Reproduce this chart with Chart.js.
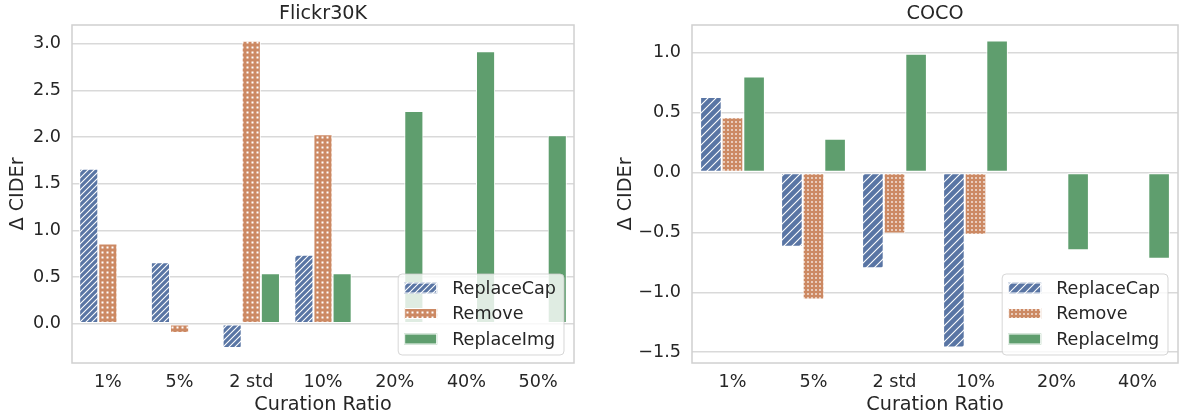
<!DOCTYPE html>
<html>
<head>
<meta charset="utf-8">
<script src="https://cdn.jsdelivr.net/npm/chart.js@4.4.0/dist/chart.umd.min.js"></script>
<style>
  html, body { margin: 0; padding: 0; background: #fff; }
  #wrap { display: flex; width: 1180px; height: 418px; }
  .panel { width: 590px; height: 418px; }
</style>
</head>
<body>
<div id="wrap">
  <div class="panel"><canvas id="flickr" width="590" height="418"></canvas></div>
  <div class="panel"><canvas id="coco" width="590" height="418"></canvas></div>
</div>
<script>
// Flickr30K panel
const flickrLabels = ["1%", "5%", "2 std", "10%", "20%", "40%", "50%"];
const flickrReplaceCap = [1.66, 0.66, -0.26, 0.74, null, null, null];
const flickrRemove = [0.86, -0.10, 3.03, 2.03, null, null, null];
const flickrReplaceImg = [null, null, 0.54, 0.54, 2.28, 2.92, 2.02];

// COCO panel
const cocoLabels = ["1%", "5%", "2 std", "10%", "20%", "40%"];
const cocoReplaceCap = [0.63, -0.62, -0.80, -1.46, null, null];
const cocoRemove = [0.46, -1.06, -0.51, -0.52, null, null];
const cocoReplaceImg = [0.80, 0.28, 0.99, 1.10, -0.65, -0.72];

const seriesNames = ["ReplaceCap", "Remove", "ReplaceImg"];

const BLUE = "#5975a4", ORANGE = "#cc8963", GREEN = "#5f9e6e";
const TEXT = "#262626";
const TICK = 17.6, LABEL = 19.2;

Chart.defaults.font.family = "'DejaVu Sans', sans-serif";
Chart.defaults.color = TEXT;

// hatch "//"
function lines(ctx, color, s) {
  const c = document.createElement("canvas");
  c.width = s; c.height = s;
  const g = c.getContext("2d");
  g.fillStyle = color;
  g.fillRect(0, 0, s, s);
  g.strokeStyle = "#fff";
  g.lineWidth = 1.1;
  g.beginPath();
  g.moveTo(-1, s + 1); g.lineTo(s + 1, -1);
  g.moveTo(-1, 1); g.lineTo(1, -1);
  g.moveTo(s - 1, s + 1); g.lineTo(s + 1, s - 1);
  g.stroke();
  return ctx.createPattern(c, "repeat");
}

// hatch dots
function dots(ctx, color, s, d) {
  const c = document.createElement("canvas");
  c.width = s; c.height = s;
  const g = c.getContext("2d");
  g.fillStyle = color;
  g.fillRect(0, 0, s, s);
  g.fillStyle = "#fff";
  g.fillRect(s / 2 - d / 2, s / 2 - d / 2, d, d);
  return ctx.createPattern(c, "repeat");
}

const fmt = v => (v < -1e-9 ? "\u2212" : "") + Math.abs(v).toFixed(1);

// box around the axes, title on top
const framePlugin = {
  id: "frame",
  beforeDatasetsDraw(chart) {
    const { ctx, chartArea: a } = chart;
    ctx.save();
    ctx.strokeStyle = "#d0d0d0";
    ctx.lineWidth = 1.5;
    ctx.strokeRect(a.left, a.top, a.right - a.left, a.bottom - a.top);
    ctx.restore();
  },
  afterDraw(chart) {
    const { ctx, chartArea: a } = chart;
    ctx.save();
    ctx.font = LABEL + "px 'DejaVu Sans'";
    ctx.fillStyle = TEXT;
    ctx.textAlign = "center";
    ctx.textBaseline = "alphabetic";
    ctx.fillText(chart.options.plugins.frame.title, (a.left + a.right) / 2, 18.5);
    ctx.restore();
  }
};

// legend in the lower right corner of the axes
const legendPlugin = {
  id: "innerLegend",
  afterDatasetsDraw(chart) {
    const { ctx, chartArea: a } = chart;
    const sets = chart.data.datasets;
    ctx.save();
    ctx.font = TICK + "px 'DejaVu Sans'";
    const tw = Math.max(...sets.map(d => ctx.measureText(d.label).width));
    const w = 6 + 33 + 15 + tw + 8, h = 81;
    const x = a.right - 10 - w, y = a.bottom - 8 - h;
    ctx.beginPath();
    ctx.roundRect(x, y, w, h, 4);
    ctx.fillStyle = "rgba(255,255,255,0.8)";
    ctx.fill();
    ctx.strokeStyle = "rgba(204,204,204,0.8)";
    ctx.lineWidth = 1;
    ctx.stroke();
    sets.forEach((d, i) => {
      const cy = y + 14 + i * 25.5;
      ctx.fillStyle = d.backgroundColor;
      ctx.fillRect(x + 6, cy - 5.5, 33, 11);
      ctx.strokeStyle = "#fff";
      ctx.strokeRect(x + 6.5, cy - 5, 32, 10);
      ctx.fillStyle = TEXT;
      ctx.textAlign = "left";
      ctx.textBaseline = "middle";
      ctx.fillText(d.label, x + 54, cy + 1);
    });
    ctx.restore();
  }
};

function makeChart(id, title, labels, rc, rm, ri, yMin, yMax, axisW, yTitlePad, padRight, lineS, dotS, dotD) {
  const canvas = document.getElementById(id);
  const ctx = canvas.getContext("2d");
  const bar = { borderColor: "#fff", borderWidth: 1, borderSkipped: false,
                categoryPercentage: 0.8, barPercentage: 1.0 };
  return new Chart(ctx, {
    type: "bar",
    data: {
      labels,
      datasets: [
        { label: seriesNames[0], data: rc, backgroundColor: lines(ctx, BLUE, lineS), ...bar },
        { label: seriesNames[1], data: rm, backgroundColor: dots(ctx, ORANGE, dotS, dotD), ...bar },
        { label: seriesNames[2], data: ri, backgroundColor: GREEN, ...bar }
      ]
    },
    options: {
      responsive: false,
      animation: false,
      devicePixelRatio: 1,
      layout: { padding: { left: 0, right: padRight, top: 25, bottom: 0 } },
      plugins: {
        legend: { display: false },
        tooltip: { enabled: false },
        frame: { title }
      },
      scales: {
        x: {
          grid: { display: false, drawTicks: false },
          border: { display: false },
          ticks: { font: { size: TICK }, color: TEXT, padding: 9 },
          title: { display: true, text: "Curation Ratio", color: TEXT,
                   font: { size: LABEL }, padding: { top: 0, bottom: 1.5 } },
          afterFit(s) { s.height = 55; }
        },
        y: {
          min: yMin,
          max: yMax,
          grid: { color: "#d9d9d9", lineWidth: 1.5, drawTicks: false },
          border: { display: false },
          ticks: { stepSize: 0.5, includeBounds: false, padding: 11,
                   font: { size: TICK }, color: TEXT, callback: fmt },
          title: { display: true, text: "\u0394 CIDEr", color: TEXT,
                   font: { size: LABEL }, padding: { top: yTitlePad, bottom: 0 } },
          afterFit(s) { s.width = axisW; }
        }
      }
    },
    plugins: [framePlugin, legendPlugin]
  });
}

makeChart("flickr", "Flickr30K", flickrLabels, flickrReplaceCap, flickrRemove, flickrReplaceImg,
          -0.42, 3.2, 72, 6.5, 16, 6, 5, 2);
makeChart("coco", "COCO", cocoLabels, cocoReplaceCap, cocoRemove, cocoReplaceImg,
          -1.59, 1.23, 102, 24.5, 2, 8, 4, 1.5);
</script>
</body>
</html>
